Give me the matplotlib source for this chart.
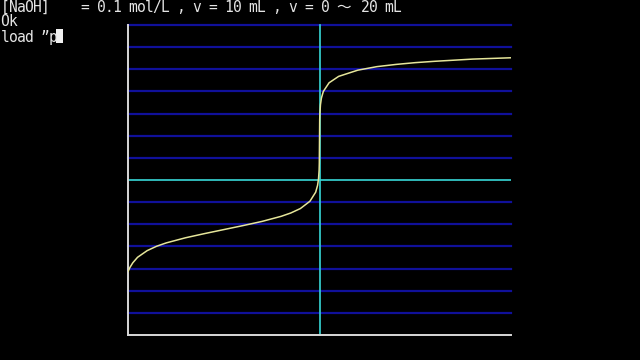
import matplotlib.pyplot as plt
from matplotlib.patches import Rectangle

# titration of 10 mL weak acid with 0.1 mol/L NaOH
volume_ml = [0, 0.1, 0.25, 0.5, 1, 1.5, 2, 3, 4, 5, 6, 7, 8, 8.5, 9, 9.5, 9.8, 9.9,
             9.95, 9.98, 9.99, 10.0, 10.01, 10.02, 10.05, 10.1, 10.2, 10.5, 11, 12,
             13, 14, 15, 16, 17, 18, 19, 20]
ph_values = [2.87, 3.05, 3.26, 3.51, 3.81, 4.01, 4.16, 4.39, 4.58, 4.76, 4.94, 5.13,
             5.36, 5.51, 5.71, 6.04, 6.45, 6.76, 7.06, 7.45, 7.76, 8.72, 9.70, 10.0,
             10.40, 10.70, 11.00, 11.39, 11.68, 11.96, 12.12, 12.22, 12.30, 12.36,
             12.41, 12.46, 12.49, 12.52]
grid_levels = list(range(1, 15))
neutral_ph = 7
equiv_volume = 10

screen_lines = ["[NaOH]    = 0.1 mol/L , v = 10 mL , v = 0 ～ 20 mL",
                "Ok",
                "load \u201dp"]

bg = 'black'
fig = plt.figure(figsize=(6.4, 3.6), dpi=100, facecolor=bg)
ax = fig.add_axes([128 / 640, 1 - 335 / 360, (511 - 128) / 640, (335 - 25) / 360])
ax.set_facecolor(bg)
ax.set_xlim(0, 20)
ax.set_ylim(0, 14)

for lvl in grid_levels:
    if lvl == neutral_ph:
        continue
    ax.axhline(lvl, color='#10109a', lw=1.6, zorder=1, clip_on=False)
ax.axhline(neutral_ph, color='#38d8d8', lw=1.2, zorder=2)
ax.axvline(equiv_volume, color='#38d8d8', lw=1.2, zorder=2, clip_on=False)

ax.plot(volume_ml, ph_values, color='#e6e69a', lw=1.1, zorder=3)

for s in ['top', 'right']:
    ax.spines[s].set_visible(False)
for s in ['left', 'bottom']:
    ax.spines[s].set_color('#d8d8d8')
    ax.spines[s].set_linewidth(1.4)
ax.set_xticks([])
ax.set_yticks([])

# text screen, 8 px character cells
cell = 8
baselines = [12, 26.5, 42]
for row, line in zip(baselines, screen_lines):
    col = 0
    for ch in line:
        wide = ord(ch) > 0x2000 and ch != '\u201d'
        fig.text((col * cell + (0.5 if not wide else 0)) / 640, 1 - row / 360, ch,
                 color='#e4e4e4', fontsize=10.5, va='baseline', ha='left',
                 family=['DejaVu Sans Mono', 'Noto Sans CJK JP'])
        col += 2 if wide else 1

# cursor block
fig.patches.append(Rectangle((56 / 640, 1 - 43 / 360), 7 / 640, 14 / 360,
                             transform=fig.transFigure, facecolor='#f0f0f0',
                             edgecolor='none'))

fig.savefig('out.png', dpi=100, facecolor=bg)
